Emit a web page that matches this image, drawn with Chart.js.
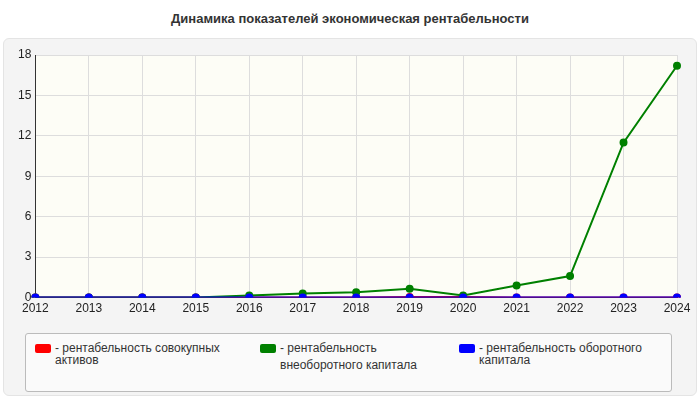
<!DOCTYPE html>
<html><head><meta charset="utf-8">
<script src="https://cdn.jsdelivr.net/npm/chart.js@4"></script>
<style>
body{margin:0;width:700px;height:400px;background:#fff;font-family:"Liberation Sans",Arial,sans-serif;position:relative;overflow:hidden}
#title{position:absolute;top:11px;left:0;width:700px;text-align:center;font-weight:bold;font-size:13px;color:#333}
#panel{position:absolute;left:3px;top:38px;width:692px;height:356px;background:#f4f4f4;border:1px solid #e4e4e4;border-radius:6px}
#wrap{position:absolute;left:0;top:0;width:700px;height:320px}
#legend{position:absolute;left:25px;top:333px;width:645px;height:57px;background:#fafafa;border:1px solid #bbb;border-radius:3px;font-size:12px;color:#333}
.it{position:absolute;top:8px;line-height:12px}
.sw{position:absolute;left:0;top:2px;width:16px;height:9px;border-radius:2px}
.tx{position:absolute;left:20px;top:0;white-space:nowrap}
</style></head><body>
<div id="title">Динамика показателей экономическая рентабельности</div>
<div id="panel"></div>
<div id="wrap"><canvas id="c" width="700" height="320"></canvas></div>
<div id="legend">
<div class="it" style="left:9px"><div class="sw" style="background:#f00"></div><div class="tx">- рентабельность совокупных<br>активов</div></div>
<div class="it" style="left:234px"><div class="sw" style="background:#008000"></div><div class="tx">- рентабельность<br><span style="display:inline-block;margin-top:5px">внеоборотного капитала</span></div></div>
<div class="it" style="left:433px"><div class="sw" style="background:#00f"></div><div class="tx">- рентабельность оборотного<br>капитала</div></div>
</div>
<script>
const years=["2012","2013","2014","2015","2016","2017","2018","2019","2020","2021","2022","2023","2024"];
const totalAssets=[0,0,0,0,0,0,0,0.05,0.05,0,0,0,0];
const nonCurrent=[0,0,0,0,0.15,0.3,0.4,0.65,0.15,0.9,1.6,11.5,17.2];
const current=[0,0,0,0,0,0,0,0,0,0,0,0,0];
const bg={id:'bg',beforeDraw(ch){const a=ch.chartArea,c=ch.ctx;c.save();c.fillStyle='#fdfdf6';c.fillRect(a.left,a.top,a.right-a.left,a.bottom-a.top);c.restore();}};
function ds(l,d,col,o){return{label:l,data:d,order:o,borderColor:col,backgroundColor:col,borderWidth:2,pointRadius:3,pointHoverRadius:3,tension:0};}
new Chart(document.getElementById('c'),{type:'line',plugins:[bg],
data:{labels:years,datasets:[ds('рентабельность совокупных активов',totalAssets,'#f00',3),ds('рентабельность внеоборотного капитала',nonCurrent,'#008000',2),ds('рентабельность оборотного капитала',current,'#00f',1)]},
options:{responsive:false,animation:false,devicePixelRatio:1,
layout:{padding:{top:55,right:23,left:14,bottom:0}},
plugins:{legend:{display:false},tooltip:{enabled:false}},
scales:{x:{offset:false,grid:{color:'#ddd',borderDash:[4,4],drawTicks:false},border:{color:'#333'},ticks:{color:'#222',font:{size:12},padding:4,maxRotation:0,autoSkip:false}},
y:{min:0,max:18,ticks:{stepSize:3,color:'#222',font:{size:12},padding:4},grid:{color:'#ddd',borderDash:[4,4],drawTicks:false},border:{color:'#333'}}}}});
</script>
</body></html>
